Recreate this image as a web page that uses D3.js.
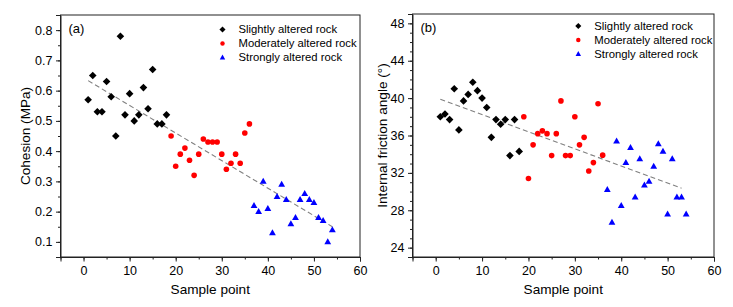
<!DOCTYPE html>
<html>
<head>
<meta charset="utf-8">
<script src="https://cdn.jsdelivr.net/npm/d3@7"></script>
<style>
  html, body { margin: 0; padding: 0; background: #fff; }
  svg { display: block; }
  text { font-family: "Liberation Sans", Arial, sans-serif; fill: #000; }
</style>
</head>
<body>
<svg id="chart" width="733" height="307"></svg>
<script>
// ---------------- DATA ----------------
const seriesNames = ["Slightly altered rock", "Moderately altered rock", "Strongly altered rock"];
const seriesColors = ["#000000", "#ff0000", "#0000ff"];
const seriesShapes = ["diamond", "circle", "triangle"];

const slightSamples   = [1,2,3,4,5,6,7,8,9,10,11,12,13,14,15,16,17,18];
const moderateSamples = [19,20,21,22,23,24,25,26,27,28,29,30,31,32,33,34,35,36];
const strongSamples   = [37,38,39,40,41,42,43,44,45,46,47,48,49,50,51,52,53,54];

// (a) Cohesion (MPa)
const cohesionSlight   = [0.57,0.65,0.53,0.53,0.63,0.58,0.45,0.78,0.52,0.59,0.50,0.52,0.61,0.54,0.67,0.49,0.49,0.52];
const cohesionModerate = [0.45,0.35,0.39,0.41,0.37,0.32,0.39,0.44,0.43,0.43,0.43,0.39,0.34,0.36,0.39,0.36,0.46,0.49];
const cohesionStrong   = [0.22,0.20,0.30,0.21,0.13,0.25,0.29,0.24,0.16,0.18,0.24,0.26,0.24,0.23,0.18,0.17,0.10,0.14];
const cohesionTrendX = [1, 54];
const cohesionTrendY = [0.633, 0.150];

// (b) Internal friction angle (°)
const frictionSlight   = [38.0,38.3,37.7,41.0,36.6,39.7,40.4,41.7,40.8,40.0,39.0,35.8,37.7,37.2,37.7,33.85,37.7,34.3];
const frictionModerate = [38.0,31.4,35.0,36.2,36.5,36.2,33.85,36.2,39.7,33.85,33.85,38.0,35.0,35.8,32.2,33.1,39.4,33.9];
const frictionStrong   = [30.2,26.7,35.4,28.5,33.1,34.7,29.4,33.5,30.7,31.1,32.7,35.1,34.3,27.6,33.5,29.4,29.4,27.6];
const frictionTrendX = [1, 53];
const frictionTrendY = [39.88, 30.36];

const xTicks = [0,10,20,30,40,50,60];
const cohesionTicks = [0.1,0.2,0.3,0.4,0.5,0.6,0.7,0.8];
const frictionTicks = [24,28,32,36,40,44,48];

// ---------------- DRAWING ----------------
const svg = d3.select("#chart");

function markerPath(shape, s) {
  if (shape === "diamond") {
    const r = 3.8 * s;
    return `M0,${-r}L${r},0L0,${r}L${-r},0Z`;
  }
  if (shape === "triangle") {
    const w = 3.4 * s, h1 = 3.6 * s, h2 = 2.4 * s;
    return `M0,${-h1}L${w},${h2}L${-w},${h2}Z`;
  }
  return d3.symbol(d3.symbolCircle, Math.PI * Math.pow(2.8 * s, 2))();
}

function panel(cfg) {
  const g = svg.append("g");
  const x = d3.scaleLinear().domain([-5, 60]).range([cfg.left, cfg.right]);
  const y = d3.scaleLinear().domain(cfg.yDomain).range([cfg.bottom, cfg.top]);

  // frame
  g.append("rect")
    .attr("x", cfg.left).attr("y", cfg.top)
    .attr("width", cfg.right - cfg.left).attr("height", cfg.bottom - cfg.top)
    .attr("fill", "none").attr("stroke", "#222").attr("stroke-width", 1);

  // minor ticks
  const xMinor = d3.range(-5, 61, 5);
  const gxm = g.append("g").attr("transform", `translate(0,${cfg.bottom})`)
    .call(d3.axisBottom(x).tickValues(xMinor).tickSize(2.5).tickFormat(""));
  gxm.select(".domain").remove();
  const gym = g.append("g").attr("transform", `translate(${cfg.left},0)`)
    .call(d3.axisLeft(y).tickValues(cfg.yMinor).tickSize(2.5).tickFormat(""));
  gym.select(".domain").remove();

  // major axes
  const gx = g.append("g").attr("transform", `translate(0,${cfg.bottom})`)
    .call(d3.axisBottom(x).tickValues(xTicks).tickSize(4.5).tickPadding(4.5).tickFormat(d3.format("d")));
  gx.select(".domain").attr("stroke", "#222");
  gx.selectAll("text").style("font-size", "12.5px").style("font-family", '"Liberation Sans", Arial, sans-serif');

  const gy = g.append("g").attr("transform", `translate(${cfg.left},0)`)
    .call(d3.axisLeft(y).tickValues(cfg.yTicks).tickSize(4.5).tickPadding(3.5).tickFormat(cfg.yFormat));
  gy.select(".domain").attr("stroke", "#222");
  gy.selectAll("text").style("font-size", "12.5px").style("font-family", '"Liberation Sans", Arial, sans-serif');
  [gxm, gym, gx, gy].forEach(a => a.selectAll("line").attr("stroke", "#222"));

  // axis titles
  g.append("text")
    .attr("x", (cfg.left + cfg.right) / 2).attr("y", 294)
    .attr("text-anchor", "middle").style("font-size", "13.6px")
    .text("Sample point");
  g.append("text")
    .attr("transform", `translate(${cfg.yTitleX},${(cfg.top + cfg.bottom) / 2}) rotate(-90)`)
    .attr("dy", "0.35em").attr("text-anchor", "middle").style("font-size", "13.6px")
    .text(cfg.yTitle);

  // panel label
  g.append("text").attr("x", cfg.left + 8).attr("y", cfg.top + 18)
    .style("font-size", "13px").text(cfg.label);

  // trend line
  const trend = cfg.trendX.map((d, i) => [d, cfg.trendY[i]]);
  g.append("path")
    .attr("d", d3.line().x(d => x(d[0])).y(d => y(d[1]))(trend))
    .attr("fill", "none").attr("stroke", "#808080").attr("stroke-width", 1.1)
    .attr("stroke-dasharray", "5,3");

  // points
  cfg.series.forEach((s, si) => {
    const pts = s.samples.map((d, i) => [d, s.values[i]]);
    g.append("g").selectAll("path").data(pts).enter().append("path")
      .attr("transform", d => `translate(${x(d[0])},${y(d[1])})`)
      .attr("d", markerPath(seriesShapes[si], 1))
      .attr("fill", seriesColors[si]);
  });

  // legend
  seriesNames.forEach((name, i) => {
    const ly = cfg.legendY + i * 14;
    g.append("path").attr("transform", `translate(${cfg.legendX},${ly})`)
      .attr("d", markerPath(seriesShapes[i], 0.8)).attr("fill", seriesColors[i]);
    g.append("text").attr("x", cfg.legendX + 16).attr("y", ly).attr("dy", "0.35em")
      .style("font-size", "11.3px").text(name);
  });
}

panel({
  left: 60.5, right: 360, top: 15, bottom: 257,
  yDomain: [0.05, 0.85], yTicks: cohesionTicks, yMinor: d3.range(1, 17).map(d => d * 0.05),
  yFormat: d3.format(".1f"),
  yTitle: "Cohesion (MPa)", yTitleX: 25.5, label: "(a)",
  trendX: cohesionTrendX, trendY: cohesionTrendY,
  legendX: 222.5, legendY: 29.5,
  series: [
    { samples: slightSamples, values: cohesionSlight },
    { samples: moderateSamples, values: cohesionModerate },
    { samples: strongSamples, values: cohesionStrong }
  ]
});

panel({
  left: 412.5, right: 714, top: 14, bottom: 257,
  yDomain: [23, 49], yTicks: frictionTicks, yMinor: d3.range(23, 50, 1),
  yFormat: d3.format("d"),
  yTitle: "Internal friction angle (°)", yTitleX: 382, label: "(b)",
  trendX: frictionTrendX, trendY: frictionTrendY,
  legendX: 578.3, legendY: 26,
  series: [
    { samples: slightSamples, values: frictionSlight },
    { samples: moderateSamples, values: frictionModerate },
    { samples: strongSamples, values: frictionStrong }
  ]
});
</script>
</body>
</html>
